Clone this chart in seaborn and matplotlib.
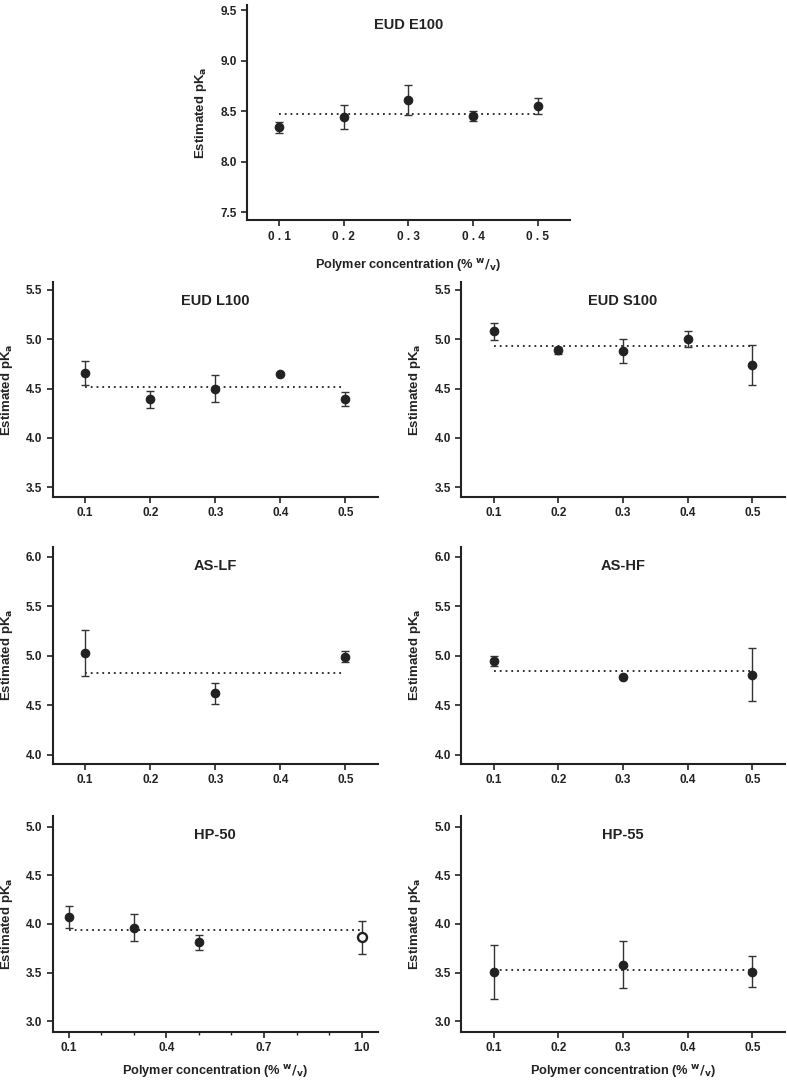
import numpy as np
import pandas as pd
import matplotlib
matplotlib.use('Agg')
import matplotlib.pyplot as plt
import seaborn as sns
from matplotlib.ticker import MultipleLocator

# values
e100_x = [0.1, 0.2, 0.3, 0.4, 0.5]
e100_y = [8.34, 8.44, 8.61, 8.45, 8.55]
e100_err = [0.05, 0.12, 0.15, 0.05, 0.08]
e100_mean = 8.47

l100_x = [0.1, 0.2, 0.3, 0.4, 0.5]
l100_y = [4.66, 4.39, 4.50, 4.65, 4.39]
l100_err = [0.12, 0.09, 0.14, 0.0, 0.07]
l100_mean = 4.52

s100_x = [0.1, 0.2, 0.3, 0.4, 0.5]
s100_y = [5.08, 4.89, 4.88, 5.00, 4.74]
s100_err = [0.09, 0.035, 0.12, 0.08, 0.20]
s100_mean = 4.93

aslf_x = [0.1, 0.3, 0.5]
aslf_y = [5.03, 4.62, 4.99]
aslf_err = [0.235, 0.11, 0.055]
aslf_mean = 4.83

ashf_x = [0.1, 0.3, 0.5]
ashf_y = [4.95, 4.79, 4.81]
ashf_err = [0.05, 0.0, 0.27]
ashf_mean = 4.85

hp50_x = [0.1, 0.3, 0.5, 1.0]
hp50_y = [4.07, 3.96, 3.81, 3.86]
hp50_err = [0.11, 0.14, 0.08, 0.17]
hp50_open = [False, False, False, True]
hp50_mean = 3.94

hp55_x = [0.1, 0.3, 0.5]
hp55_y = [3.505, 3.58, 3.51]
hp55_err = [0.28, 0.24, 0.16]
hp55_mean = 3.53

sns.set_theme(style='ticks')
plt.rcParams['font.family'] = ['Liberation Sans', 'DejaVu Sans']
plt.rcParams['font.weight'] = 'bold'
plt.rcParams['mathtext.default'] = 'bf'

ink = '#222222'
ylab = 'Estimated pK$_a$'
xlab = 'Polymer concentration (% $^{w}/_{v}$)'


def panel(ax, title, xs, ys, errs, mean, ylim, xlim=(0.05, 0.55),
          xticks=(0.1, 0.2, 0.3, 0.4, 0.5), xlabels=None, xlabel=False,
          hollow=None, xpad=10):
    df = pd.DataFrame({'x': xs, 'y': ys, 'err': errs})
    if hollow is None:
        hollow = [False] * len(xs)
    df['hollow'] = hollow

    ax.errorbar(df['x'], df['y'], yerr=df['err'], fmt='none',
                ecolor='#333333', elinewidth=1.0, capsize=3.0, capthick=1.0,
                zorder=2)
    ax.plot([xs[0], xs[-1]], [mean, mean], linestyle=(0, (1, 2.2)),
            color=ink, linewidth=1.3, zorder=1)
    sns.scatterplot(data=df[~df['hollow']], x='x', y='y', ax=ax,
                    color=ink, s=38, edgecolor=ink, linewidth=0.8,
                    zorder=3, legend=False)
    if df['hollow'].any():
        sns.scatterplot(data=df[df['hollow']], x='x', y='y', ax=ax,
                        facecolor='white', s=42, edgecolor=ink,
                        linewidth=1.7, zorder=3, legend=False)

    ax.set_xlim(*xlim)
    ax.set_ylim(*ylim)
    ax.set_xticks(xticks)
    ax.set_xticklabels(xlabels if xlabels else [f'{t:.1f}' for t in xticks])
    ax.yaxis.set_major_locator(MultipleLocator(0.5))
    ax.yaxis.set_major_formatter(plt.FormatStrFormatter('%.1f'))
    ax.tick_params(axis='both', labelsize=8.5, width=1.2, length=4,
                   color=ink, labelcolor=ink)
    for lab in ax.get_xticklabels() + ax.get_yticklabels():
        lab.set_fontweight('bold')
    for sp in ('left', 'bottom'):
        ax.spines[sp].set_linewidth(1.5)
        ax.spines[sp].set_color(ink)
    sns.despine(ax=ax)
    ax.set_ylabel(ylab, fontsize=9.5, fontweight='bold', color=ink, labelpad=8)
    ax.set_xlabel(xlab if xlabel else '', fontsize=9.2, fontweight='bold',
                  color=ink, labelpad=xpad)
    ax.text(0.5, 0.91, title, transform=ax.transAxes, ha='center',
            va='center', fontsize=10.5, fontweight='bold', color=ink)


fig = plt.figure(figsize=(7.87, 10.85), dpi=100)

ax0 = fig.add_axes([0.314, 0.797, 0.41, 0.198])
panel(ax0, 'EUD E100', e100_x, e100_y, e100_err, e100_mean, (7.42, 9.55),
      xlabels=['0 . 1', '0 . 2', '0 . 3', '0 . 4', '0 . 5'], xlabel=True)

ax1 = fig.add_axes([0.067, 0.542, 0.413, 0.198])
panel(ax1, 'EUD L100', l100_x, l100_y, l100_err, l100_mean, (3.40, 5.58))

ax2 = fig.add_axes([0.586, 0.542, 0.411, 0.198])
panel(ax2, 'EUD S100', s100_x, s100_y, s100_err, s100_mean, (3.40, 5.58))

ax3 = fig.add_axes([0.067, 0.296, 0.413, 0.200])
panel(ax3, 'AS-LF', aslf_x, aslf_y, aslf_err, aslf_mean, (3.91, 6.1))

ax4 = fig.add_axes([0.586, 0.296, 0.411, 0.200])
panel(ax4, 'AS-HF', ashf_x, ashf_y, ashf_err, ashf_mean, (3.91, 6.1))

ax5 = fig.add_axes([0.067, 0.049, 0.413, 0.199])
panel(ax5, 'HP-50', hp50_x, hp50_y, hp50_err, hp50_mean, (2.89, 5.11),
      xlim=(0.05, 1.05), xticks=(0.1, 0.4, 0.7, 1.0), xlabel=True,
      hollow=hp50_open, xpad=6)
ax5.xaxis.set_minor_locator(MultipleLocator(0.1))
ax5.tick_params(axis='x', which='minor', length=2.5, width=1.0, color=ink)

ax6 = fig.add_axes([0.586, 0.049, 0.411, 0.199])
panel(ax6, 'HP-55', hp55_x, hp55_y, hp55_err, hp55_mean, (2.89, 5.11),
      xlabel=True, xpad=6)

fig.savefig('out.png', dpi=100)
